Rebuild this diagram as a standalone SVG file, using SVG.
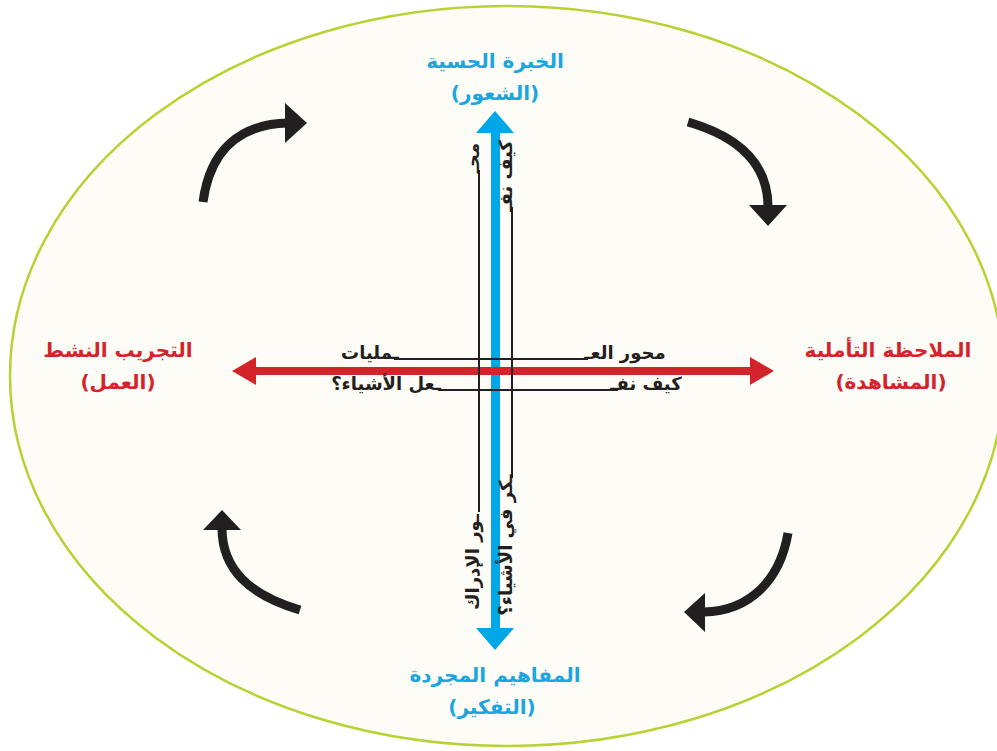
<svg xmlns="http://www.w3.org/2000/svg" width="997" height="751" viewBox="0 0 997 751">
<defs>
<style>
.lbl{font-family:"DejaVu Sans",sans-serif;font-weight:bold;font-size:20px;text-anchor:middle}
.blue{fill:#1aa6e0}
.red{fill:#d3242c}
.ax{font-family:"DejaVu Sans",sans-serif;font-weight:bold;font-size:18px;text-anchor:middle;fill:#231f20}
.cyc{fill:none;stroke:#231f20;stroke-width:9}
.head{fill:#231f20}
.thin{stroke:#231f20;stroke-width:2;fill:none}
</style>
</defs>
<rect width="997" height="751" fill="#ffffff"/>
<ellipse id="frame" cx="507" cy="376" rx="497" ry="370" fill="#fefcf6" stroke="#b8d234" stroke-width="2.5"/>

<g id="connectors">
  <g id="cycle-top-left">
    <path class="cyc" d="M203,202 C210,150 240,124 288,123"/>
    <polygon class="head" points="285,103 307,123 285,143"/>
  </g>
  <g id="cycle-top-right">
    <path class="cyc" d="M688,122 C740,137 768,165 768,207"/>
    <polygon class="head" points="749,205 787,205 768,226"/>
  </g>
  <g id="cycle-bottom-right">
    <path class="cyc" d="M788,533 C780,580 750,611 704,612"/>
    <polygon class="head" points="705,593 705,632 684,612"/>
  </g>
  <g id="cycle-bottom-left">
    <path class="cyc" d="M300,610 C250,595 222,570 222,528"/>
    <polygon class="head" points="203,530 241,530 222,510"/>
  </g>
  <g id="axis-vertical">
    <rect x="491" y="130" width="9" height="501" fill="#00a7e7"/>
    <polygon points="476,133 514,133 495,111" fill="#00a7e7"/>
    <polygon points="476,628 514,628 495,650" fill="#00a7e7"/>
  </g>
  <g id="axis-horizontal">
    <rect x="252" y="367" width="502" height="8" fill="#d3242c"/>
    <polygon points="256,357 256,385 232,371" fill="#d3242c"/>
    <polygon points="750,357 750,385 774,371" fill="#d3242c"/>
  </g>
</g>

<g id="axis-labels">
  <line class="thin" x1="394" y1="359" x2="588" y2="359"/>
  <line class="thin" x1="438" y1="390" x2="618" y2="390"/>
  <line class="thin" x1="479" y1="170" x2="479" y2="512"/>
  <line class="thin" x1="512" y1="207" x2="512" y2="478"/>
  <text class="ax" x="625" y="359">محور العـ</text>
  <text class="ax" x="370" y="359">ـمليات</text>
  <text class="ax" x="646" y="390">كيف نفـ</text>
  <text class="ax" x="386" y="390">ـعل الأشياء؟</text>
  <text class="ax" transform="translate(479,158) rotate(-90)">محـ</text>
  <text class="ax" transform="translate(479,562) rotate(-90)">ـور الإدراك</text>
  <text class="ax" transform="translate(512,176) rotate(-90)">كيف نفـ</text>
  <text class="ax" transform="translate(512,545) rotate(-90)">ـكر في الأشياء؟</text>
</g>

<g id="node-top">
  <text class="lbl blue" x="495" y="68">الخبرة الحسية</text>
  <text class="lbl blue" x="495" y="100">(الشعور)</text>
</g>
<g id="node-left">
  <text class="lbl red" x="118" y="357">التجريب النشط</text>
  <text class="lbl red" x="118" y="389">(العمل)</text>
</g>
<g id="node-right">
  <text class="lbl red" x="888" y="357">الملاحظة التأملية</text>
  <text class="lbl red" x="891" y="389">(المشاهدة)</text>
</g>
<g id="node-bottom">
  <text class="lbl blue" x="495" y="682">المفاهيم المجردة</text>
  <text class="lbl blue" x="492" y="714">(التفكير)</text>
</g>
</svg>
